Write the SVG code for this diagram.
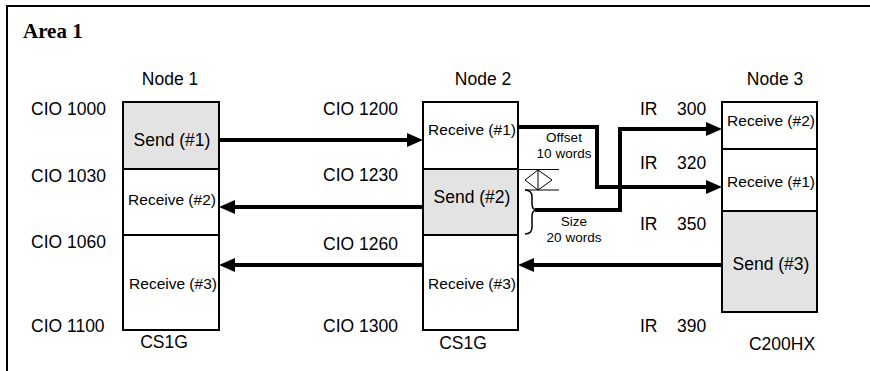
<svg xmlns="http://www.w3.org/2000/svg" width="870" height="371" viewBox="0 0 870 371">
<style>
text{font-family:"Liberation Sans",Arial,sans-serif;fill:#000}
.lbl{font-size:17.5px}
.rcv{font-size:15.5px}
.snd{font-size:17.5px}
.sm{font-size:13.5px}
.mid{text-anchor:middle}
.title{font-family:"Liberation Serif","Times New Roman",serif;font-weight:bold;font-size:21px}
.cell{fill:#fff;stroke:#000;stroke-width:2}
.cell.send{fill:#e3e3e3}
.conn{fill:none;stroke:#000;stroke-width:4;stroke-linejoin:miter}
.thin{fill:none;stroke:#000;stroke-width:1}
</style>
<defs>
<marker id="ah" markerUnits="userSpaceOnUse" markerWidth="16" markerHeight="14" viewBox="0 -7 16 14" refX="0" refY="0" orient="auto">
<path d="M0,-7 L16,0 L0,7 Z" fill="#000"/>
</marker>
</defs>
<rect width="870" height="371" fill="#fff"/>
<path d="M7,371 V6 H870" fill="none" stroke="#000" stroke-width="2"/>
<text class="title" x="23" y="38">Area 1</text>

<g id="node1">
<text class="lbl mid" x="170" y="85">Node 1</text>
<rect class="cell send" x="123" y="102" width="96" height="67"/>
<rect class="cell" x="123" y="169" width="96" height="66"/>
<rect class="cell" x="123" y="235" width="96" height="95"/>
<text class="snd mid" x="172" y="146">Send (#1)</text>
<text class="rcv mid" x="172" y="205">Receive (#2)</text>
<text class="rcv mid" x="173" y="289">Receive (#3)</text>
<text class="lbl" x="31" y="115">CIO 1000</text>
<text class="lbl" x="31" y="182">CIO 1030</text>
<text class="lbl" x="31" y="248">CIO 1060</text>
<text class="lbl" x="31" y="332">CIO 1100</text>
<text class="lbl mid" x="164" y="348">CS1G</text>
</g>

<g id="node2">
<text class="lbl mid" x="483" y="85">Node 2</text>
<rect class="cell" x="423" y="102" width="95" height="67"/>
<rect class="cell send" x="423" y="169" width="95" height="66"/>
<rect class="cell" x="423" y="235" width="95" height="95"/>
<text class="rcv mid" x="472" y="135">Receive (#1)</text>
<text class="snd mid" x="472" y="203">Send (#2)</text>
<text class="rcv mid" x="472" y="289">Receive (#3)</text>
<text class="lbl" x="323" y="115">CIO 1200</text>
<text class="lbl" x="323" y="181">CIO 1230</text>
<text class="lbl" x="323" y="250">CIO 1260</text>
<text class="lbl" x="323" y="332">CIO 1300</text>
<text class="lbl mid" x="463" y="349">CS1G</text>
</g>

<g id="node3">
<text class="lbl mid" x="775" y="85">Node 3</text>
<rect class="cell" x="722" y="102" width="95" height="47"/>
<rect class="cell" x="722" y="149" width="95" height="62"/>
<rect class="cell send" x="722" y="211" width="95" height="101"/>
<text class="rcv mid" x="771" y="126">Receive (#2)</text>
<text class="rcv mid" x="771" y="187">Receive (#1)</text>
<text class="snd mid" x="771" y="270">Send (#3)</text>
<text class="lbl"><tspan x="640" y="115">IR</tspan> <tspan x="677" y="115">300</tspan></text>
<text class="lbl"><tspan x="640" y="169">IR</tspan> <tspan x="677" y="169">320</tspan></text>
<text class="lbl"><tspan x="640" y="230">IR</tspan> <tspan x="677" y="230">350</tspan></text>
<text class="lbl"><tspan x="640" y="332">IR</tspan> <tspan x="677" y="332">390</tspan></text>
<text class="lbl mid" x="782" y="350">C200HX</text>
</g>

<g id="annotations">
<path class="thin" d="M518,169.5 H559 M525,190 H559 M538,170 V190"/>
<path class="thin" d="M538,170 L552,180 L538,190 L525,180 Z"/>
<path d="M525,190 Q532,190 532,197 V204 Q532,210 537,210 Q532,210 532,216 V227 Q532,234 525,234" fill="none" stroke="#000" stroke-width="1.5"/>
<text class="sm mid" x="564" y="142">Offset</text>
<text class="sm mid" x="564" y="158">10 words</text>
<text class="sm mid" x="574" y="226">Size</text>
<text class="sm mid" x="574" y="242">20 words</text>
</g>

<g id="connectors">
<path class="conn" d="M219,140 H407" marker-end="url(#ah)"/>
<path class="conn" d="M423,207 H235" marker-end="url(#ah)"/>
<path class="conn" d="M423,265 H235" marker-end="url(#ah)"/>
<path class="conn" d="M722,265 H534" marker-end="url(#ah)"/>
<path class="conn" d="M518,127 H597 V187 H706" marker-end="url(#ah)"/>
<path class="conn" d="M535,210 H620 V129 H706" marker-end="url(#ah)"/>
</g>
</svg>
